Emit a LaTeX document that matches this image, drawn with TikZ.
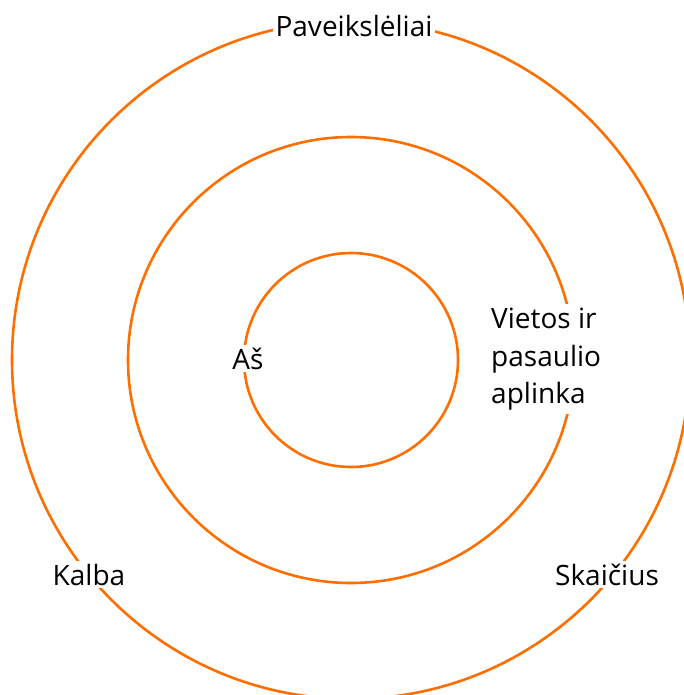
\documentclass[tikz,border=0pt]{standalone}
\usepackage{fontspec}
\setmainfont{Open Sans}
\definecolor{ring}{RGB}{255,110,0}
\tikzset{
  ringline/.style={draw=ring, line width=2.6pt},
  lbl/.style={fill=white, inner sep=3pt, text=black, font=\fontsize{28}{36}\selectfont},
}
\begin{document}
\begin{tikzpicture}[x=1pt,y=-1pt]
\useasboundingbox (0,0) rectangle (684,695);
\clip (0,0) rectangle (684,695);
\coordinate (c) at (351,360);
\draw[ringline] (c) circle[radius=107pt];
\draw[ringline] (c) circle[radius=223pt];
\draw[ringline] (c) circle[radius=339pt];
\node[lbl, anchor=base] (pav) at (354,37) {Paveikslėliai};
\node[lbl, anchor=base] (as) at (248,369) {Aš};
\node[lbl, anchor=north west, align=left, inner sep=4pt, font=\fontsize{28}{37.5}\selectfont] (viet) at (487,304) {Vietos ir\\pasaulio\\aplinka};
\node[lbl, anchor=base] (kal) at (89,585) {Kalba};
\node[lbl, anchor=base] (ska) at (607,585) {Skaičius};
\end{tikzpicture}
\end{document}
